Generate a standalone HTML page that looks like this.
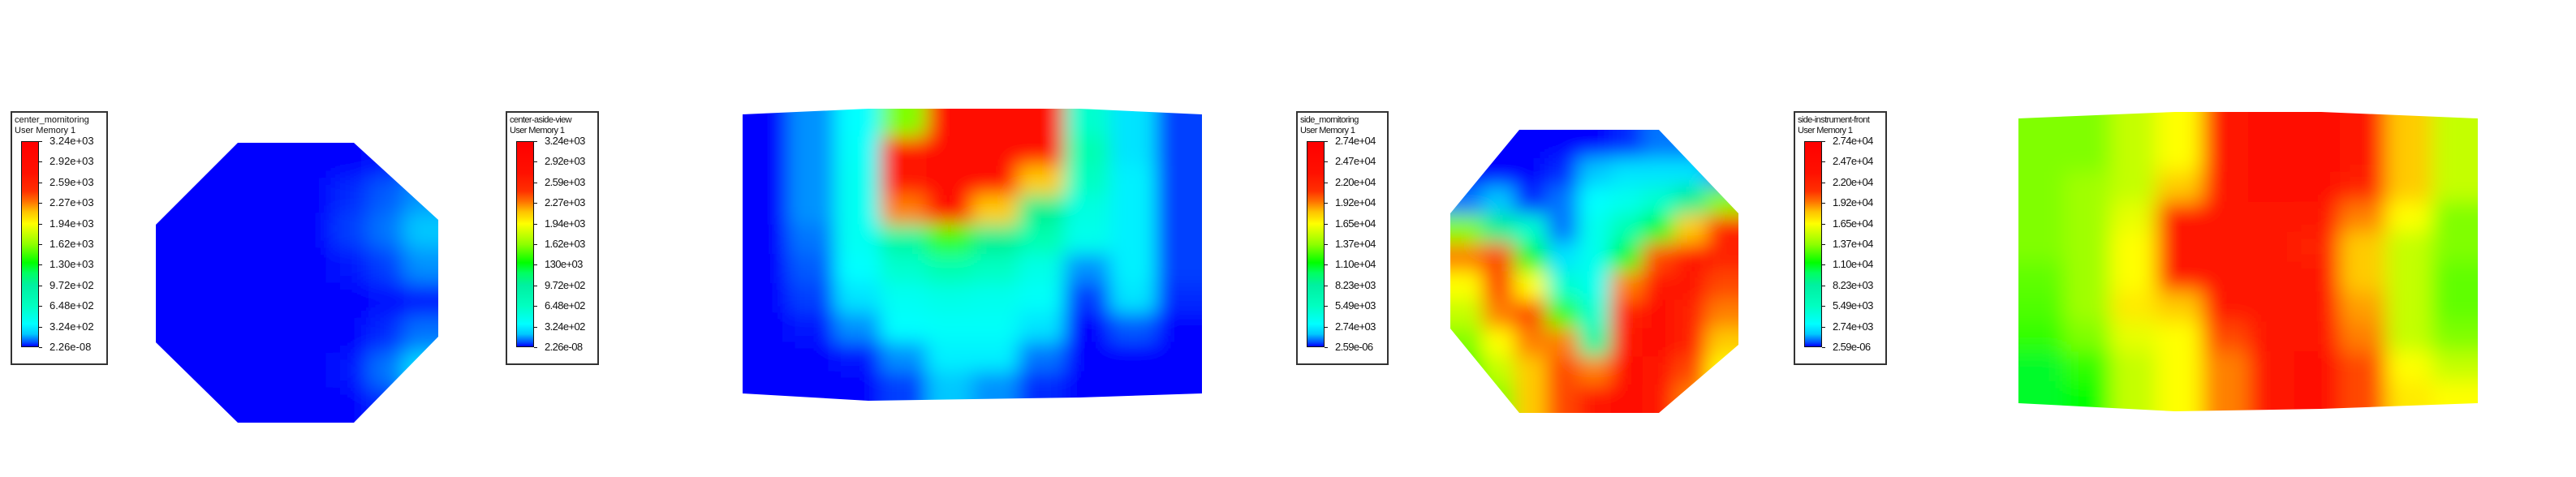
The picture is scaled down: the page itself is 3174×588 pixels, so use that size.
<!DOCTYPE html>
<html><head><meta charset="utf-8">
<style>
html,body{margin:0;padding:0;background:#fff;}
body{width:3174px;height:588px;position:relative;overflow:hidden;font-family:"Liberation Sans",sans-serif;}
.legend{position:absolute;top:137px;height:313px;border:2px solid #333;box-sizing:border-box;background:#fff;}
.legend .t{position:absolute;left:3px;font-size:11px;color:#111;white-space:nowrap;line-height:12px;}
.legend .bar{position:absolute;top:35px;height:254px;width:22px;border:1px solid #111;box-sizing:border-box;
background:linear-gradient(to top,#0000ff 0%,#0050ff 2%,#00c8ff 6%,#00ffff 11%,#00ffc0 20%,#00f0a0 30%,#00ff60 36%,#00ff00 41%,#90ff00 50%,#ffff00 60%,#ffc000 66%,#ff7000 71%,#ff3000 76%,#ff1000 85%,#ff0000 100%);}
.legend .lab{position:absolute;font-size:13px;color:#111;white-space:nowrap;line-height:14px;}
.legend .tk{position:absolute;width:4px;height:1px;background:#111;}
.cond .lab,.cond .t{letter-spacing:-0.6px;}
svg{position:absolute;left:0;top:0;}
</style></head>
<body>
<svg id="plots" width="3174" height="588" xmlns="http://www.w3.org/2000/svg"></svg>
<script>
// legend data
const ticks1 = ["3.24e+03","2.92e+03","2.59e+03","2.27e+03","1.94e+03","1.62e+03","1.30e+03","9.72e+02","6.48e+02","3.24e+02","2.26e-08"];
const ticks2 = ["3.24e+03","2.92e+03","2.59e+03","2.27e+03","1.94e+03","1.62e+03","130e+03","9.72e+02","6.48e+02","3.24e+02","2.26e-08"];
const ticks3 = ["2.74e+04","2.47e+04","2.20e+04","1.92e+04","1.65e+04","1.37e+04","1.10e+04","8.23e+03","5.49e+03","2.74e+03","2.59e-06"];
const ticks4 = ["2.74e+04","2.47e+04","2.20e+04","1.92e+04","1.65e+04","1.37e+04","1.10e+04","8.23e+03","5.49e+03","2.74e+03","2.59e-06"];
const titles = [["center_mornitoring","User Memory 1"],["center-aside-view","User Memory 1"],["side_mornitoring","User Memory 1"],["side-instrument-front","User Memory 1"]];

// field values (relative 0..1), rows top->bottom
const field1 = [
[0,0,0,0,0,0,0.01,0.03],
[0,0,0,0,0,0.02,0.04,0.06],
[0,0,0,0,0,0.03,0.05,0.08],
[0,0,0,0,0,0.01,0.03,0.06],
[0,0,0,0,0,0,0.005,0.01],
[0,0,0,0,0,0,0.02,0.05],
[0,0,0,0,0,0.01,0.05,0.1],
[0,0,0,0,0,0,0.02,0.06]];
const field2 = [
[0,0.06,0.12,0.5,0.9,0.95,0.95,0.2,0.1,0.03],
[0,0.06,0.13,0.85,0.95,0.95,0.9,0.25,0.1,0.03],
[0,0.06,0.14,0.85,0.95,0.92,0.65,0.22,0.11,0.03],
[0,0.06,0.14,0.7,0.92,0.65,0.35,0.17,0.11,0.03],
[0,0.05,0.14,0.3,0.45,0.35,0.25,0.15,0.11,0.03],
[0,0.04,0.12,0.2,0.25,0.22,0.16,0.06,0.11,0.03],
[0,0.03,0.1,0.14,0.16,0.15,0.13,0.03,0.1,0.02],
[0,0.01,0.06,0.12,0.13,0.13,0.1,0,0.04,0],
[0,0,0.01,0.06,0.11,0.11,0.05,0,0,0],
[0,0,0,0.03,0.08,0.06,0.02,0,0,0]];
const field3 = [
[0,0,0,0,0,0.02,0.05,0.05,0.05],
[0,0,0,0.02,0.08,0.1,0.1,0.1,0.05],
[0.05,0.08,0.02,0.05,0.12,0.15,0.2,0.35,0.5],
[0.5,0.35,0.2,0.05,0.15,0.25,0.4,0.65,0.8],
[0.7,0.75,0.4,0.1,0.15,0.4,0.75,0.85,0.8],
[0.6,0.75,0.6,0.2,0.15,0.7,0.85,0.85,0.75],
[0.55,0.7,0.75,0.45,0.2,0.8,0.9,0.8,0.7],
[0.5,0.6,0.7,0.7,0.3,0.85,0.9,0.8,0.65],
[0.45,0.55,0.65,0.75,0.7,0.9,0.88,0.75,0.6],
[0.45,0.5,0.65,0.75,0.85,0.9,0.85,0.7,0.6]];
const field4 = [
[0.5,0.5,0.55,0.6,0.85,0.9,0.9,0.85,0.65,0.55],
[0.5,0.5,0.55,0.6,0.85,0.9,0.9,0.85,0.65,0.55],
[0.5,0.52,0.55,0.65,0.85,0.9,0.9,0.8,0.65,0.55],
[0.5,0.52,0.58,0.85,0.88,0.88,0.85,0.7,0.6,0.5],
[0.5,0.52,0.6,0.85,0.88,0.88,0.8,0.65,0.55,0.5],
[0.48,0.52,0.6,0.85,0.88,0.88,0.85,0.65,0.55,0.48],
[0.47,0.52,0.62,0.65,0.85,0.88,0.85,0.68,0.55,0.48],
[0.45,0.5,0.58,0.6,0.75,0.88,0.88,0.7,0.55,0.5],
[0.4,0.45,0.55,0.6,0.7,0.88,0.9,0.75,0.6,0.55],
[0.4,0.42,0.55,0.6,0.7,0.88,0.9,0.75,0.62,0.6]];

const stops=[[0,[0,0,255]],[0.03,[0,64,255]],[0.08,[0,200,255]],[0.12,[0,255,255]],[0.25,[0,255,176]],[0.35,[0,240,144]],[0.42,[0,255,0]],[0.52,[160,255,0]],[0.6,[255,255,0]],[0.66,[255,192,0]],[0.72,[255,96,0]],[0.8,[255,32,0]],[1,[255,0,0]]];
function cmap(t){
  t=Math.max(0,Math.min(1,t));
  for(let i=1;i<stops.length;i++){
    if(t<=stops[i][0]){const a=stops[i-1],b=stops[i];const f=(t-a[0])/(b[0]-a[0]);
      const c=a[1].map((v,k)=>Math.round(v+(b[1][k]-v)*f));return `rgb(${c[0]},${c[1]},${c[2]})`;}
  }
  return 'rgb(255,0,0)';
}

const NS="http://www.w3.org/2000/svg";
const svg=document.getElementById('plots');
const defs=document.createElementNS(NS,'defs');svg.appendChild(defs);

const plots=[
 {name:'center-monitoring-plot',field:field1,x0:192,y0:176,x1:541,y1:521,blur:13,
  shape:'192,277 293,176 436,176 540,271 540,415 436,521 293,521 192,422'},
 {name:'center-aside-view-plot',field:field2,x0:915,y0:132,x1:1481,y1:494,blur:12,
  shape:'915,141 1070,134 1330,134 1481,141 1481,485 1330,490 1070,494 915,485'},
 {name:'side-monitoring-plot',field:field3,x0:1787,y0:160,x1:2142,y1:509,blur:12,
  shape:'1787,263 1872,160 2044,160 2142,263 2142,425 2044,509 1872,509 1787,405'},
 {name:'side-instrument-front-plot',field:field4,x0:2487,y0:138,x1:3053,y1:507,blur:13,
  shape:'2487,146 2680,138 2860,138 3053,146 3053,497 2860,504 2680,507 2487,497'}
];
plots.forEach((p,pi)=>{
  const cp=document.createElementNS(NS,'clipPath');cp.setAttribute('id','clip'+pi);
  const poly=document.createElementNS(NS,'polygon');poly.setAttribute('points',p.shape);cp.appendChild(poly);defs.appendChild(cp);
  const fl=document.createElementNS(NS,'filter');fl.setAttribute('id','blur'+pi);
  fl.setAttribute('x','-20%');fl.setAttribute('y','-20%');fl.setAttribute('width','140%');fl.setAttribute('height','140%');
  const gb=document.createElementNS(NS,'feGaussianBlur');gb.setAttribute('stdDeviation',p.blur);fl.appendChild(gb);defs.appendChild(fl);
  const outer=document.createElementNS(NS,'g');outer.setAttribute('clip-path',`url(#clip${pi})`);
  
  
  const g=document.createElementNS(NS,'g');g.setAttribute('filter',`url(#blur${pi})`);
  const rows=p.field.length,cols=p.field[0].length;
  const cw=(p.x1-p.x0)/cols,ch=(p.y1-p.y0)/rows,pad=50;
  p.field.forEach((row,r)=>row.forEach((v,c)=>{
    let x=p.x0+c*cw,y=p.y0+r*ch,w=cw+1,h=ch+1;
    if(c===0){x-=pad;w+=pad;} if(c===cols-1){w+=pad;}
    if(r===0){y-=pad;h+=pad;} if(r===rows-1){h+=pad;}
    const rc=document.createElementNS(NS,'rect');
    rc.setAttribute('x',x);rc.setAttribute('y',y);rc.setAttribute('width',w);rc.setAttribute('height',h);
    rc.setAttribute('fill',cmap(v));
    
    
    g.appendChild(rc);
  }));
  outer.appendChild(g);svg.appendChild(outer);
});

// legends
const legendX=[13,623,1597,2210];
const legendW=[120,115,114,115];
const allTicks=[ticks1,ticks2,ticks3,ticks4];
legendX.forEach((lx,i)=>{
  const d=document.createElement('div');
  d.className='legend'+(i>0?' cond':'');
  d.style.left=lx+'px';d.style.width=legendW[i]+'px';
  
  
  titles[i].forEach((t,k)=>{
    const s=document.createElement('div');s.className='t';s.style.top=(3+k*13)+'px';s.textContent=t;
    
    
    d.appendChild(s);
  });
  const bar=document.createElement('div');bar.className='bar';bar.style.left='11px';
  
  
  d.appendChild(bar);
  allTicks[i].forEach((t,k)=>{
    const y=35+k*25.4;
    const tk=document.createElement('div');tk.className='tk';tk.style.left='33px';tk.style.top=y+'px';
    
    
    d.appendChild(tk);
    const l=document.createElement('div');l.className='lab';l.style.left='46px';l.style.top=(y-7)+'px';l.textContent=t;
    
    
    d.appendChild(l);
  });
  document.body.appendChild(d);
});
</script>
</body></html>
